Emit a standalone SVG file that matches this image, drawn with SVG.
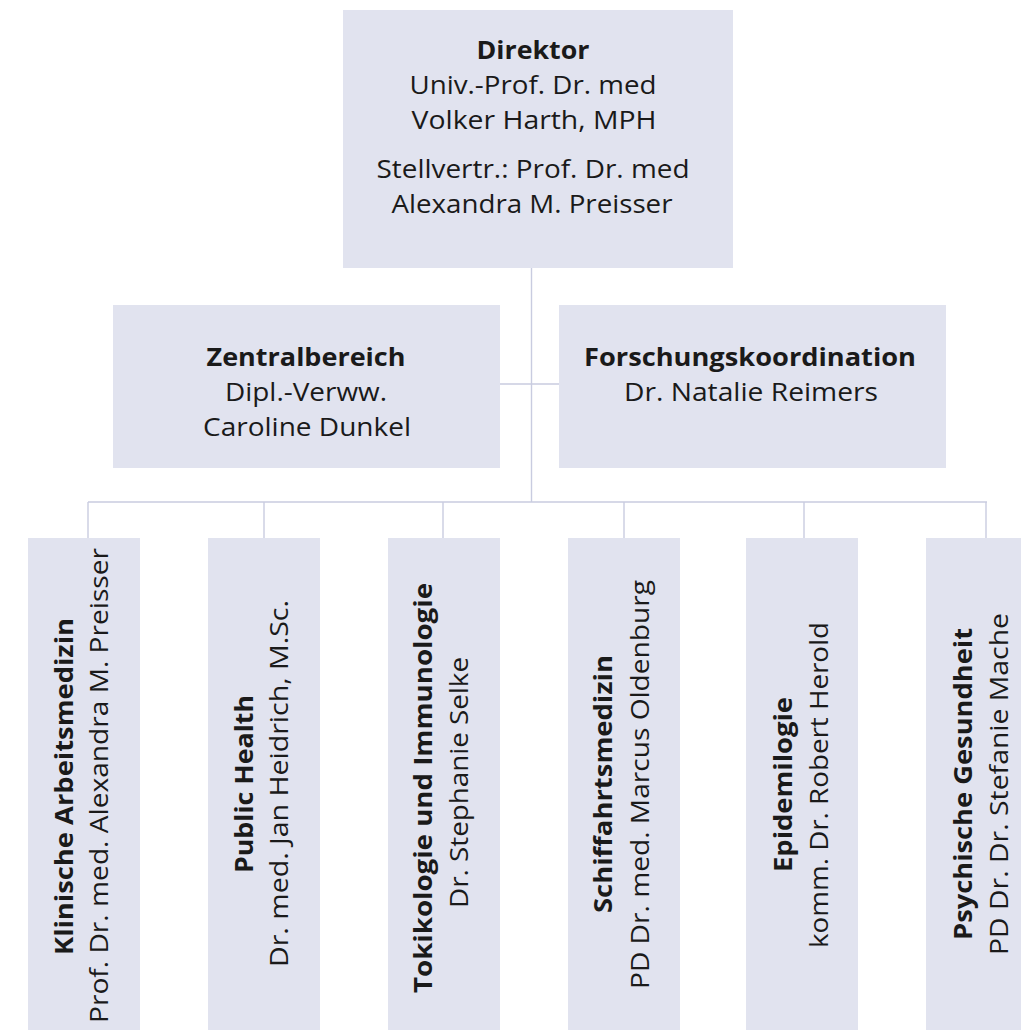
<svg xmlns="http://www.w3.org/2000/svg" width="1021" height="1030" viewBox="0 0 1021 1030">
<style>
.box{fill:#e1e3ef}
.ln{stroke:#c9cce0;stroke-width:1.4;fill:none}
text{font-family:"Open Sans","Noto Sans",sans-serif;font-size:25px;fill:#1a1a1a;text-anchor:middle}
.b{font-weight:bold}
</style>
<rect width="1021" height="1030" fill="#fff"/>
<g id="connectors">
<path class="ln" d="M531.5 268V502M500 384H559M88 502H987M88 502V538M264 502V538M443 502V538M624 502V538M804 502V538M986 502V538"/>
</g>
<g id="direktor">
<rect class="box" x="343" y="10" width="390" height="258"/>
<text class="b" x="533" y="59" textLength="113" lengthAdjust="spacingAndGlyphs">Direktor</text>
<text x="533" y="94" textLength="247" lengthAdjust="spacingAndGlyphs">Univ.-Prof. Dr. med</text>
<text x="534" y="129" textLength="245" lengthAdjust="spacingAndGlyphs">Volker Harth, MPH</text>
<text x="533" y="178" textLength="313" lengthAdjust="spacingAndGlyphs">Stellvertr.: Prof. Dr. med</text>
<text x="532" y="213" textLength="281" lengthAdjust="spacingAndGlyphs">Alexandra M. Preisser</text>
</g>
<g id="zentralbereich">
<rect class="box" x="113" y="305" width="387" height="163"/>
<text class="b" x="306" y="366" textLength="199" lengthAdjust="spacingAndGlyphs">Zentralbereich</text>
<text x="306" y="401" textLength="162" lengthAdjust="spacingAndGlyphs">Dipl.-Verww.</text>
<text x="307" y="436" textLength="208" lengthAdjust="spacingAndGlyphs">Caroline Dunkel</text>
</g>
<g id="forschung">
<rect class="box" x="559" y="305" width="387" height="163"/>
<text class="b" x="750" y="366" textLength="332" lengthAdjust="spacingAndGlyphs">Forschungskoordination</text>
<text x="751" y="401" textLength="254" lengthAdjust="spacingAndGlyphs">Dr. Natalie Reimers</text>
</g>
<g id="klinische">
<rect class="box" x="28" y="538" width="112" height="500"/>
<text class="b" transform="translate(73 786.5) rotate(-90)" textLength="337" lengthAdjust="spacingAndGlyphs">Klinische Arbeitsmedizin</text>
<text transform="translate(108 785.5) rotate(-90)" textLength="475" lengthAdjust="spacingAndGlyphs">Prof. Dr. med. Alexandra M. Preisser</text>
</g>
<g id="publichealth">
<rect class="box" x="208" y="538" width="112" height="500"/>
<text class="b" transform="translate(253 784) rotate(-90)" textLength="178" lengthAdjust="spacingAndGlyphs">Public Health</text>
<text transform="translate(288 783.5) rotate(-90)" textLength="367" lengthAdjust="spacingAndGlyphs">Dr. med. Jan Heidrich, M.Sc.</text>
</g>
<g id="toxikologie">
<rect class="box" x="388" y="538" width="112" height="500"/>
<text class="b" transform="translate(432 788) rotate(-90)" textLength="410" lengthAdjust="spacingAndGlyphs">Tokikologie und Immunologie</text>
<text transform="translate(468 782.5) rotate(-90)" textLength="251" lengthAdjust="spacingAndGlyphs">Dr. Stephanie Selke</text>
</g>
<g id="schiffahrt">
<rect class="box" x="568" y="538" width="112" height="500"/>
<text class="b" transform="translate(612 784) rotate(-90)" textLength="258" lengthAdjust="spacingAndGlyphs">Schiffahrtsmedizin</text>
<text transform="translate(649 784.5) rotate(-90)" textLength="409" lengthAdjust="spacingAndGlyphs">PD Dr. med. Marcus Oldenburg</text>
</g>
<g id="epidemiologie">
<rect class="box" x="746" y="538" width="112" height="500"/>
<text class="b" transform="translate(792 784.5) rotate(-90)" textLength="175" lengthAdjust="spacingAndGlyphs">Epidemilogie</text>
<text transform="translate(828 785) rotate(-90)" textLength="326" lengthAdjust="spacingAndGlyphs">komm. Dr. Robert Herold</text>
</g>
<g id="psychische">
<rect class="box" x="926" y="538" width="112" height="500"/>
<text class="b" transform="translate(972 784) rotate(-90)" textLength="312" lengthAdjust="spacingAndGlyphs">Psychische Gesundheit</text>
<text transform="translate(1008 784) rotate(-90)" textLength="342" lengthAdjust="spacingAndGlyphs">PD Dr. Dr. Stefanie Mache</text>
</g>
</svg>
